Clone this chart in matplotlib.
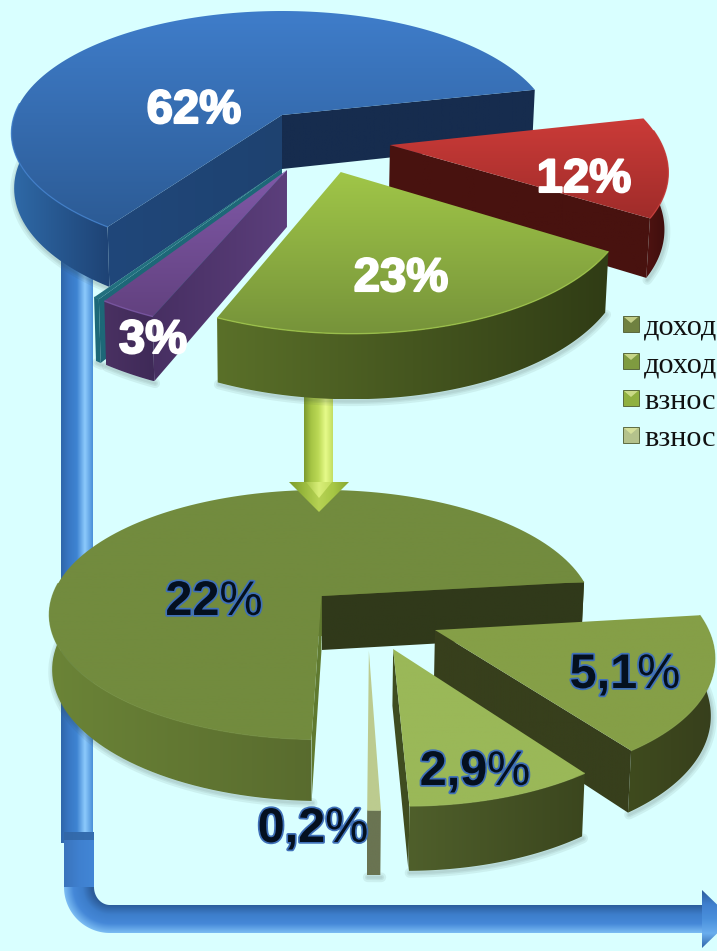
import numpy as np
import matplotlib
matplotlib.use('Agg')
import matplotlib.pyplot as plt
from matplotlib.colors import LinearSegmentedColormap
from matplotlib.patches import Polygon, Rectangle
import matplotlib.patheffects as pe

W, H = 717, 951
BG = "#d9ffff"

# top pie, in slice order going counter-clockwise (sizes)
top_names = ["blue", "teal", "purple", "green", "red"]
top_values = [62, 0.3, 2.8, 22.7, 12.5]
top_labels = ["62%", "", "3%", "23%", "12%"]

# bottom pie
bottom_names = ["big", "thin", "mid", "small"]
bottom_values = [21.9, 0.2, 2.9, 5.15]
bottom_labels = ["22", "0,2", "2,9", "5,1"]

legend_labels = ["доход", "доход", "взнос", "взнос"]
legend_colors = ["#6f8140", "#7f9b40", "#90b040", "#b4c28c"]

# colours: top surface (2), outer wall (2), end cut face (2), start cut face
STYLES = {
    "blue": ["#3f7dca", "#2c5b95", "#2f6aa8", "#1e4375", "#20477a", "#1e4270", "#162c4e"],
    "teal": ["#22707f", "#22707f", "#1d6878", "#1d6878", "#1d6878", "#1d6878", "#1d6878"],
    "purple": ["#8059a8", "#62417f", "#4a3162", "#3f2a58", "#472f62", "#5c3f7c", "#472f62"],
    "green": ["#a0c648", "#76933a", "#5a7029", "#303c15", "#3a4a1a", "#3a4a1a", "#3a4a1a"],
    "red": ["#cb3b38", "#a02c2a", "#4f1311", "#3c0d0c", "#4b1311", "#3e0e0d", "#48120f"],
    "big": ["#728b3e", "#728b3e", "#6b8437", "#465225", "#607a30", "#607a30", "#30391a"],
    "thin": ["#bccb8f", "#bccb8f", "#6a7452", "#6a7452", "#6a7452", "#6a7452", "#6a7452"],
    "mid": ["#9ab858", "#9ab858", "#4f5f2b", "#3b461e", "#3f4d20", "#3f4d20", "#3f4d20"],
    "small": ["#859f47", "#859f47", "#3f4b1e", "#373f1c", "#373f1c", "#373f1c", "#373f1c"],
}


def gradient(ax, verts, c1, c2=None, vertical=True, zorder=2):
    # fill a polygon with a linear gradient of two or more stops
    colors = [c1, c2] if isinstance(c1, str) else c1
    cmap = LinearSegmentedColormap.from_list("g", colors)
    verts = np.asarray(verts)
    x0, y0 = verts.min(axis=0)
    x1, y1 = verts.max(axis=0)
    g = np.linspace(0, 1, 256)
    arr = g[:, None] if vertical else g[None, :]
    im = ax.imshow(arr, cmap=cmap, extent=(x0, x1, y1, y0), origin="upper",
                   aspect="auto", vmin=0, vmax=1, zorder=zorder)
    patch = Polygon(verts, closed=True, transform=ax.transData, fc="none", ec="none")
    ax.add_patch(patch)
    im.set_clip_path(patch)


def project(u, v, pie):
    w = 1 + pie["k"] * v
    return pie["cx"] + pie["rx"] * u / w, pie["cy"] - pie["ry"] * v / w, w


def lower(x, y, w, pie):
    # same points on the underside of the pie
    return pie["cx"] + (x - pie["cx"]) * 0.99, y + pie["depth"] * w ** -0.8


def draw_slice(ax, pie, a0, a1, name, offset, radius=1.0):
    top1, top2, wall1, wall2, end1, end2, start = STYLES[name]
    ou, ov = offset
    t = np.radians(np.linspace(a0, a1, 140))
    ax_, ay_, aw_ = project(ou, ov, pie)
    ax2, ay2 = lower(ax_, ay_, aw_, pie)
    x, y, w = project(ou + radius * np.cos(t), ov + radius * np.sin(t), pie)
    xb, yb = lower(x, y, w, pie)
    vis = np.sin(t) < 0.12

    # soft shadow under the lower edge
    if vis.sum() > 1:
        for lw in (7, 4, 2):
            ax.plot(xb[vis] + 1, yb[vis] + 2, color="#33443f", alpha=0.08, lw=lw,
                    zorder=2, solid_capstyle="round")

    # outer wall, only the part that faces the viewer
    if vis.sum() > 1:
        wall = np.vstack([np.c_[x[vis], y[vis]], np.c_[xb[vis], yb[vis]][::-1]])
        gradient(ax, wall, wall1, wall2, vertical=False)

    # flat cut faces
    if np.cos(np.radians(a0)) > 0:
        face = [(ax_, ay_), (x[0], y[0]), (xb[0], yb[0]), (ax2, ay2)]
        gradient(ax, face, start, start, vertical=False)
    if np.cos(np.radians(a1)) < 0:
        face = [(ax_, ay_), (x[-1], y[-1]), (xb[-1], yb[-1]), (ax2, ay2)]
        gradient(ax, face, end1, end2, vertical=False)

    # top surface and a thin lighter rim
    gradient(ax, np.vstack([[[ax_, ay_]], np.c_[x, y]]), top1, top2)
    if vis.sum() > 1:
        ax.plot(x[vis], y[vis], color=top1, lw=1.0, alpha=0.8, zorder=2,
                solid_capstyle="butt")


def draw_pie(ax, pie, names, values, offsets, radii, order):
    total = sum(values)
    a = pie["start"]
    angles = {}
    for name, val in zip(names, values):
        angles[name] = (a, a + 360 * val / total)
        a += 360 * val / total
    for name in order:
        draw_slice(ax, pie, angles[name][0], angles[name][1], name,
                   offsets[name], radii[name])


def blue_arrow(ax):
    stops = ["#2e66aa", "#3878c4", "#3f84d2", "#8ccafc", "#4a8fd8"]
    gradient(ax, [(61, 250), (93, 250), (93, 843), (61, 843)], stops, vertical=False, zorder=1)

    # elbow: straight part, rounded corner, horizontal part, arrow head
    side = ["#3a74bc", "#3f80cf", "#4286d6"]
    gradient(ax, [(64, 832), (94, 832), (94, 887), (64, 887)], side, vertical=False, zorder=1)
    ax.add_patch(Rectangle((64, 832), 30, 8, fc="#2f639f", ec="none", alpha=0.7, zorder=1))

    cmap = LinearSegmentedColormap.from_list("c", ["#2c5d9b", "#3d7ecb", "#4588d8", "#7cbdf3"])
    xx, yy = np.meshgrid(np.linspace(64, 110, 120), np.linspace(887, 933, 120))
    d = np.hypot(xx - 110, yy - 887)
    im = ax.imshow((d - 18) / 28, cmap=cmap, extent=(64, 110, 933, 887), vmin=0, vmax=1,
                   aspect="auto", zorder=1)
    t = np.radians(np.linspace(180, 90, 40))
    outer = np.c_[110 + 46 * np.cos(t), 887 + 46 * np.sin(t)]
    inner = np.c_[110 + 16 * np.cos(t), 887 + 18 * np.sin(t)][::-1]
    patch = Polygon(np.vstack([outer, inner]), closed=True, fc="none", ec="none", transform=ax.transData)
    ax.add_patch(patch)
    im.set_clip_path(patch)

    bar = ["#2c5d9b", "#3d7ecb", "#4588d8", "#7cbdf3"]
    gradient(ax, [(110, 905), (705, 905), (705, 933), (110, 933)], bar, zorder=1)
    head = [(702, 890), (732, 919), (702, 948)]
    gradient(ax, head, ["#2c5d9b", "#3f80cf", "#4a90dc", "#6aaeee", "#2f66a8"], zorder=1)


def green_arrow(ax):
    gradient(ax, [(304, 392), (333, 392), (333, 484), (304, 484)],
             ["#7b9a2f", "#a6c545", "#bcd956", "#e6fb8a", "#c2de62"], vertical=False, zorder=2)
    gradient(ax, [(289, 482), (349, 482), (319, 512)],
             ["#7c9c2c", "#9aba3e", "#b6d254", "#a6c644", "#88a832"], vertical=False, zorder=2)
    gradient(ax, [(306, 482), (332, 482), (319, 498)],
             ["#a8c648", "#d8ee78", "#c4de60"], vertical=False, zorder=2)


def split_label(ax, renderer, cx, base, num):
    # digits are bold, the percent sign is regular, as in the picture
    stroke = [pe.withStroke(linewidth=2.5, foreground="#3f70b8")]
    t1 = ax.text(cx, base, num, color="#04101f", fontsize=35, fontweight="bold",
                 family="Liberation Sans", ha="left", va="baseline", zorder=5, path_effects=stroke)
    t2 = ax.text(cx, base, "%", color="#04101f", fontsize=35,
                 family="Liberation Sans", ha="left", va="baseline", zorder=5, path_effects=stroke)
    w1 = t1.get_window_extent(renderer).width
    w2 = t2.get_window_extent(renderer).width
    left = cx - (w1 + w2) / 2
    t1.set_x(left)
    t2.set_x(left + w1)


fig, ax = plt.subplots(figsize=(W / 100, H / 100), dpi=100)
fig.patch.set_facecolor(BG)
ax.set_position([0, 0, 1, 1])
ax.set_facecolor(BG)
ax.axis("off")
ax.set_xlim(0, W)
ax.set_ylim(H, 0)

blue_arrow(ax)

# bottom pie
pie2 = {"cx": 321.5, "cy": 596, "rx": 269, "ry": 122, "k": 0.15, "depth": 54, "start": 6.7}
draw_pie(ax, pie2, bottom_names, bottom_values,
         {"big": (0, 0), "thin": (0.165, -0.42), "mid": (0.25, -0.408), "small": (0.405, -0.268)},
         {"big": 1.0, "thin": 0.97, "mid": 0.96, "small": 0.975},
         ["big", "thin", "small", "mid"])

green_arrow(ax)

# top pie
pie1 = {"cx": 282, "cy": 115, "rx": 267.5, "ry": 119.6, "k": 0.15, "depth": 54, "start": 12.6}
draw_pie(ax, pie1, top_names, top_values,
         {"blue": (0, 0), "teal": (0, -0.42), "purple": (0.0175, -0.43),
          "green": (0.205, -0.445), "red": (0.389, -0.242)},
         {"blue": 1.0, "teal": 1.0, "purple": 1.0, "green": 0.99, "red": 0.98},
         ["blue", "teal", "purple", "red", "green"])

# percent labels
top_pos = [(194, 123), None, (153, 353), (401, 291), (584, 192)]
for label, pos in zip(top_labels, top_pos):
    if label:
        ax.text(pos[0], pos[1], label, color="white", fontsize=34, fontweight="bold",
                family="Liberation Sans", ha="center", va="baseline", zorder=5,
                path_effects=[pe.withStroke(linewidth=1.5, foreground="white")])

renderer = fig.canvas.get_renderer()
bottom_pos = [(214, 615), (313, 842), (475, 785), (625, 688)]
for label, pos in zip(bottom_labels, bottom_pos):
    split_label(ax, renderer, pos[0], pos[1], label)

# legend, its words reach the right edge
legend_y = [316, 353, 390, 427]
for label, col, ly in zip(legend_labels, legend_colors, legend_y):
    ax.add_patch(Rectangle((623, ly), 16, 16, fc=col, ec="#4d5a2e", lw=0.6, zorder=3))
    ax.add_patch(Polygon([(624, ly + 1), (638, ly + 1), (631, ly + 7)], fc="#dfe9a0",
                         ec="none", alpha=0.75, zorder=3))
    ax.text(644, ly + 19, label, color="#111111", fontsize=21.8, family="Liberation Serif",
            ha="left", va="baseline", zorder=3)

ax.set_xlim(0, W)
ax.set_ylim(H, 0)
fig.savefig("out.png", dpi=100, facecolor=BG)
plt.close(fig)
